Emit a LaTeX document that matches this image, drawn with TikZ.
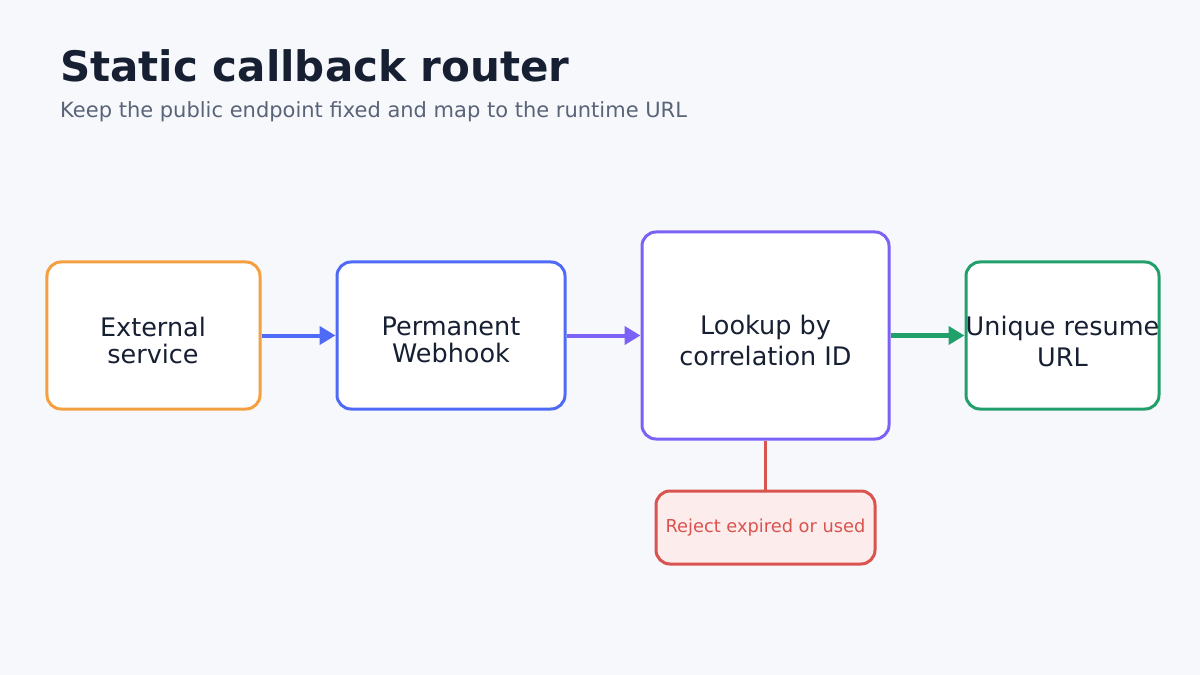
\documentclass[tikz,border=0pt]{standalone}
\usepackage{fontspec}
\setmainfont{DejaVu Sans}
\usetikzlibrary{arrows.meta}
\definecolor{bg}{HTML}{F7F8FB}
\definecolor{ink}{HTML}{172033}
\definecolor{sub}{HTML}{5A6478}
\definecolor{cor}{HTML}{F4A040}
\definecolor{cbl}{HTML}{4F6BF5}
\definecolor{cpu}{HTML}{7B61F5}
\definecolor{cgr}{HTML}{22A06B}
\definecolor{cre}{HTML}{D9534F}
\definecolor{fre}{HTML}{FCECEC}
\begin{document}
\begin{tikzpicture}[x=1bp,y=-1bp,
 box/.style={draw,line width=3bp,rounded corners=14bp,fill=white,inner sep=0pt},
 lbl/.style={text=ink,align=center,inner sep=0pt,font=\fontsize{25.5bp}{27bp}\selectfont},
 arr/.style={line width=4bp,-{Triangle[length=16bp,width=18bp]}}]
\fill[bg] (0,0) rectangle (1200,675);
\useasboundingbox (0,0) rectangle (1200,675);
\node[anchor=base west,inner sep=0pt,text=ink,font=\fontsize{42bp}{48bp}\selectfont\bfseries] (t) at (60,82) {Static callback router};
\node[anchor=base west,inner sep=0pt,text=sub,font=\fontsize{21bp}{24bp}\selectfont] (s) at (60,118) {Keep the public endpoint fixed and map to the runtime URL};
\node[box,draw=cor,minimum width=213bp,minimum height=147bp] (a) at (153.5,335.5) {};
\node[lbl] (al) at (153,340) {External\\service};
\node[box,draw=cbl,minimum width=228bp,minimum height=147bp] (b) at (451,335.5) {};
\node[lbl] (bl) at (451,340) {Permanent\\Webhook};
\node[box,draw=cpu,minimum width=247bp,minimum height=207bp] (c) at (765.5,335.5) {};
\node[lbl,font=\fontsize{25.5bp}{31bp}\selectfont] (cl) at (765.5,340) {Lookup by\\correlation ID};
\node[box,draw=cgr,minimum width=193bp,minimum height=147bp] (d) at (1062.5,335.5) {};
\node[lbl,font=\fontsize{25.5bp}{31bp}\selectfont] (dl) at (1062.5,341) {Unique resume\\URL};
\node[box,draw=cre,fill=fre,text=cre,minimum width=219bp,minimum height=73bp,font=\fontsize{17.8bp}{20bp}\selectfont] (e) at (765.5,527.5) {Reject expired or used};
\draw[arr,draw=cbl,fill=cbl] (a.east) -- (b.west);
\draw[arr,draw=cpu,fill=cpu] (b.east) -- (c.west);
\draw[arr,line width=5bp,draw=cgr,fill=cgr] (c.east) -- (d.west);
\draw[line width=3bp,draw=cre] (c.south) -- (e.north);
\end{tikzpicture}
\end{document}
